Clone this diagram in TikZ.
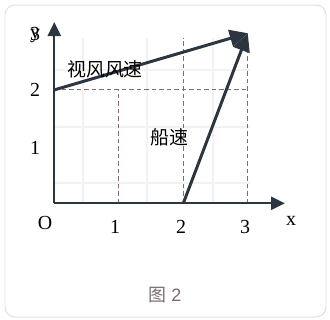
\documentclass[tikz,border=0pt]{standalone}
\usepackage{fontspec}
\setmainfont{Liberation Serif}
\newfontfamily\cjk{Noto Sans CJK SC}
\newfontfamily\capfont{Liberation Sans}
\usetikzlibrary{arrows.meta}
\definecolor{axiscol}{HTML}{2B3640}
\definecolor{dashcol}{HTML}{7F6D74}
\definecolor{gridcol}{HTML}{F4F1F2}
\definecolor{bordercol}{HTML}{E2DEDE}
\definecolor{capcol}{HTML}{7A6A72}
\tikzset{
  axisline/.style={draw=axiscol, line width=2.2pt, -{Triangle[length=14bp,width=13bp]}},
  vecline/.style={draw=axiscol, line width=3pt, -{Triangle[length=18bp,width=17bp]}},
  guide/.style={draw=dashcol, line width=1.1pt, dash pattern=on 4.5bp off 3bp},
  faint/.style={draw=gridcol, line width=1.5pt},
  lbl/.style={font=\fontsize{20}{20}\selectfont, text=black, inner sep=0pt},
  cjklbl/.style={font=\cjk\fontsize{19}{19}\selectfont, text=black, inner sep=0pt},
}
\begin{document}
\begin{tikzpicture}[x=1bp,y=-1bp]
\useasboundingbox (0,0) rectangle (330,320);
\draw[bordercol, line width=1pt, rounded corners=10bp] (5,5) rectangle (326,317);
% faint grid
\foreach \gx in {83,147,213} \draw[faint] (\gx,38) -- (\gx,203);
\foreach \gy in {70,127,183} \draw[faint] (54,\gy) -- (250,\gy);
% coordinates
\coordinate (O) at (54.3,203.3);
\coordinate (Y2) at (54.3,89.9);
\coordinate (X1) at (118.8,203.3);
\coordinate (X2) at (183.3,203.3);
\coordinate (X3) at (247.8,203.3);
\coordinate (P) at (247.8,33.2);
\coordinate (D1) at (118.8,89.9);
\coordinate (D2) at (183.3,38);
\coordinate (D3) at (247.8,89.9);
\coordinate (YT) at (54.3,22);
\coordinate (XT) at (285,203.3);
% dashed guides
\draw[guide] (Y2) -- (D3);
\draw[guide] (X1) -- (D1);
\draw[guide] (X2) -- (D2);
\draw[guide] (X3) -- (P);
% axes
\draw[axisline] (O) -- (YT);
\draw[axisline] (O) -- (XT);
% vectors
\draw[vecline] (Y2) -- (P);
\draw[vecline] (X2) -- (P);
% labels
\node[lbl] (ly) at (35,35) {\rlap{\raisebox{1.5bp}{y}}3};
\node[lbl] (l2) at (35,90) {2};
\node[lbl] (l1) at (35,148) {1};
\node[lbl] (lO) at (45,223) {O};
\node[lbl] (lx1) at (115,227) {1};
\node[lbl] (lx2) at (181,227) {2};
\node[lbl] (lx3) at (245,227) {3};
\node[lbl] (lx) at (291,221) {x};
\node[cjklbl] (wind) at (105,69) {视风风速};
\node[cjklbl] (boat) at (169,137) {船速};
\node[font=\capfont\fontsize{18}{18}\selectfont, text=capcol, inner sep=0pt] (cap) at (165,295) {{\cjk 图} 2};
\end{tikzpicture}
\end{document}
